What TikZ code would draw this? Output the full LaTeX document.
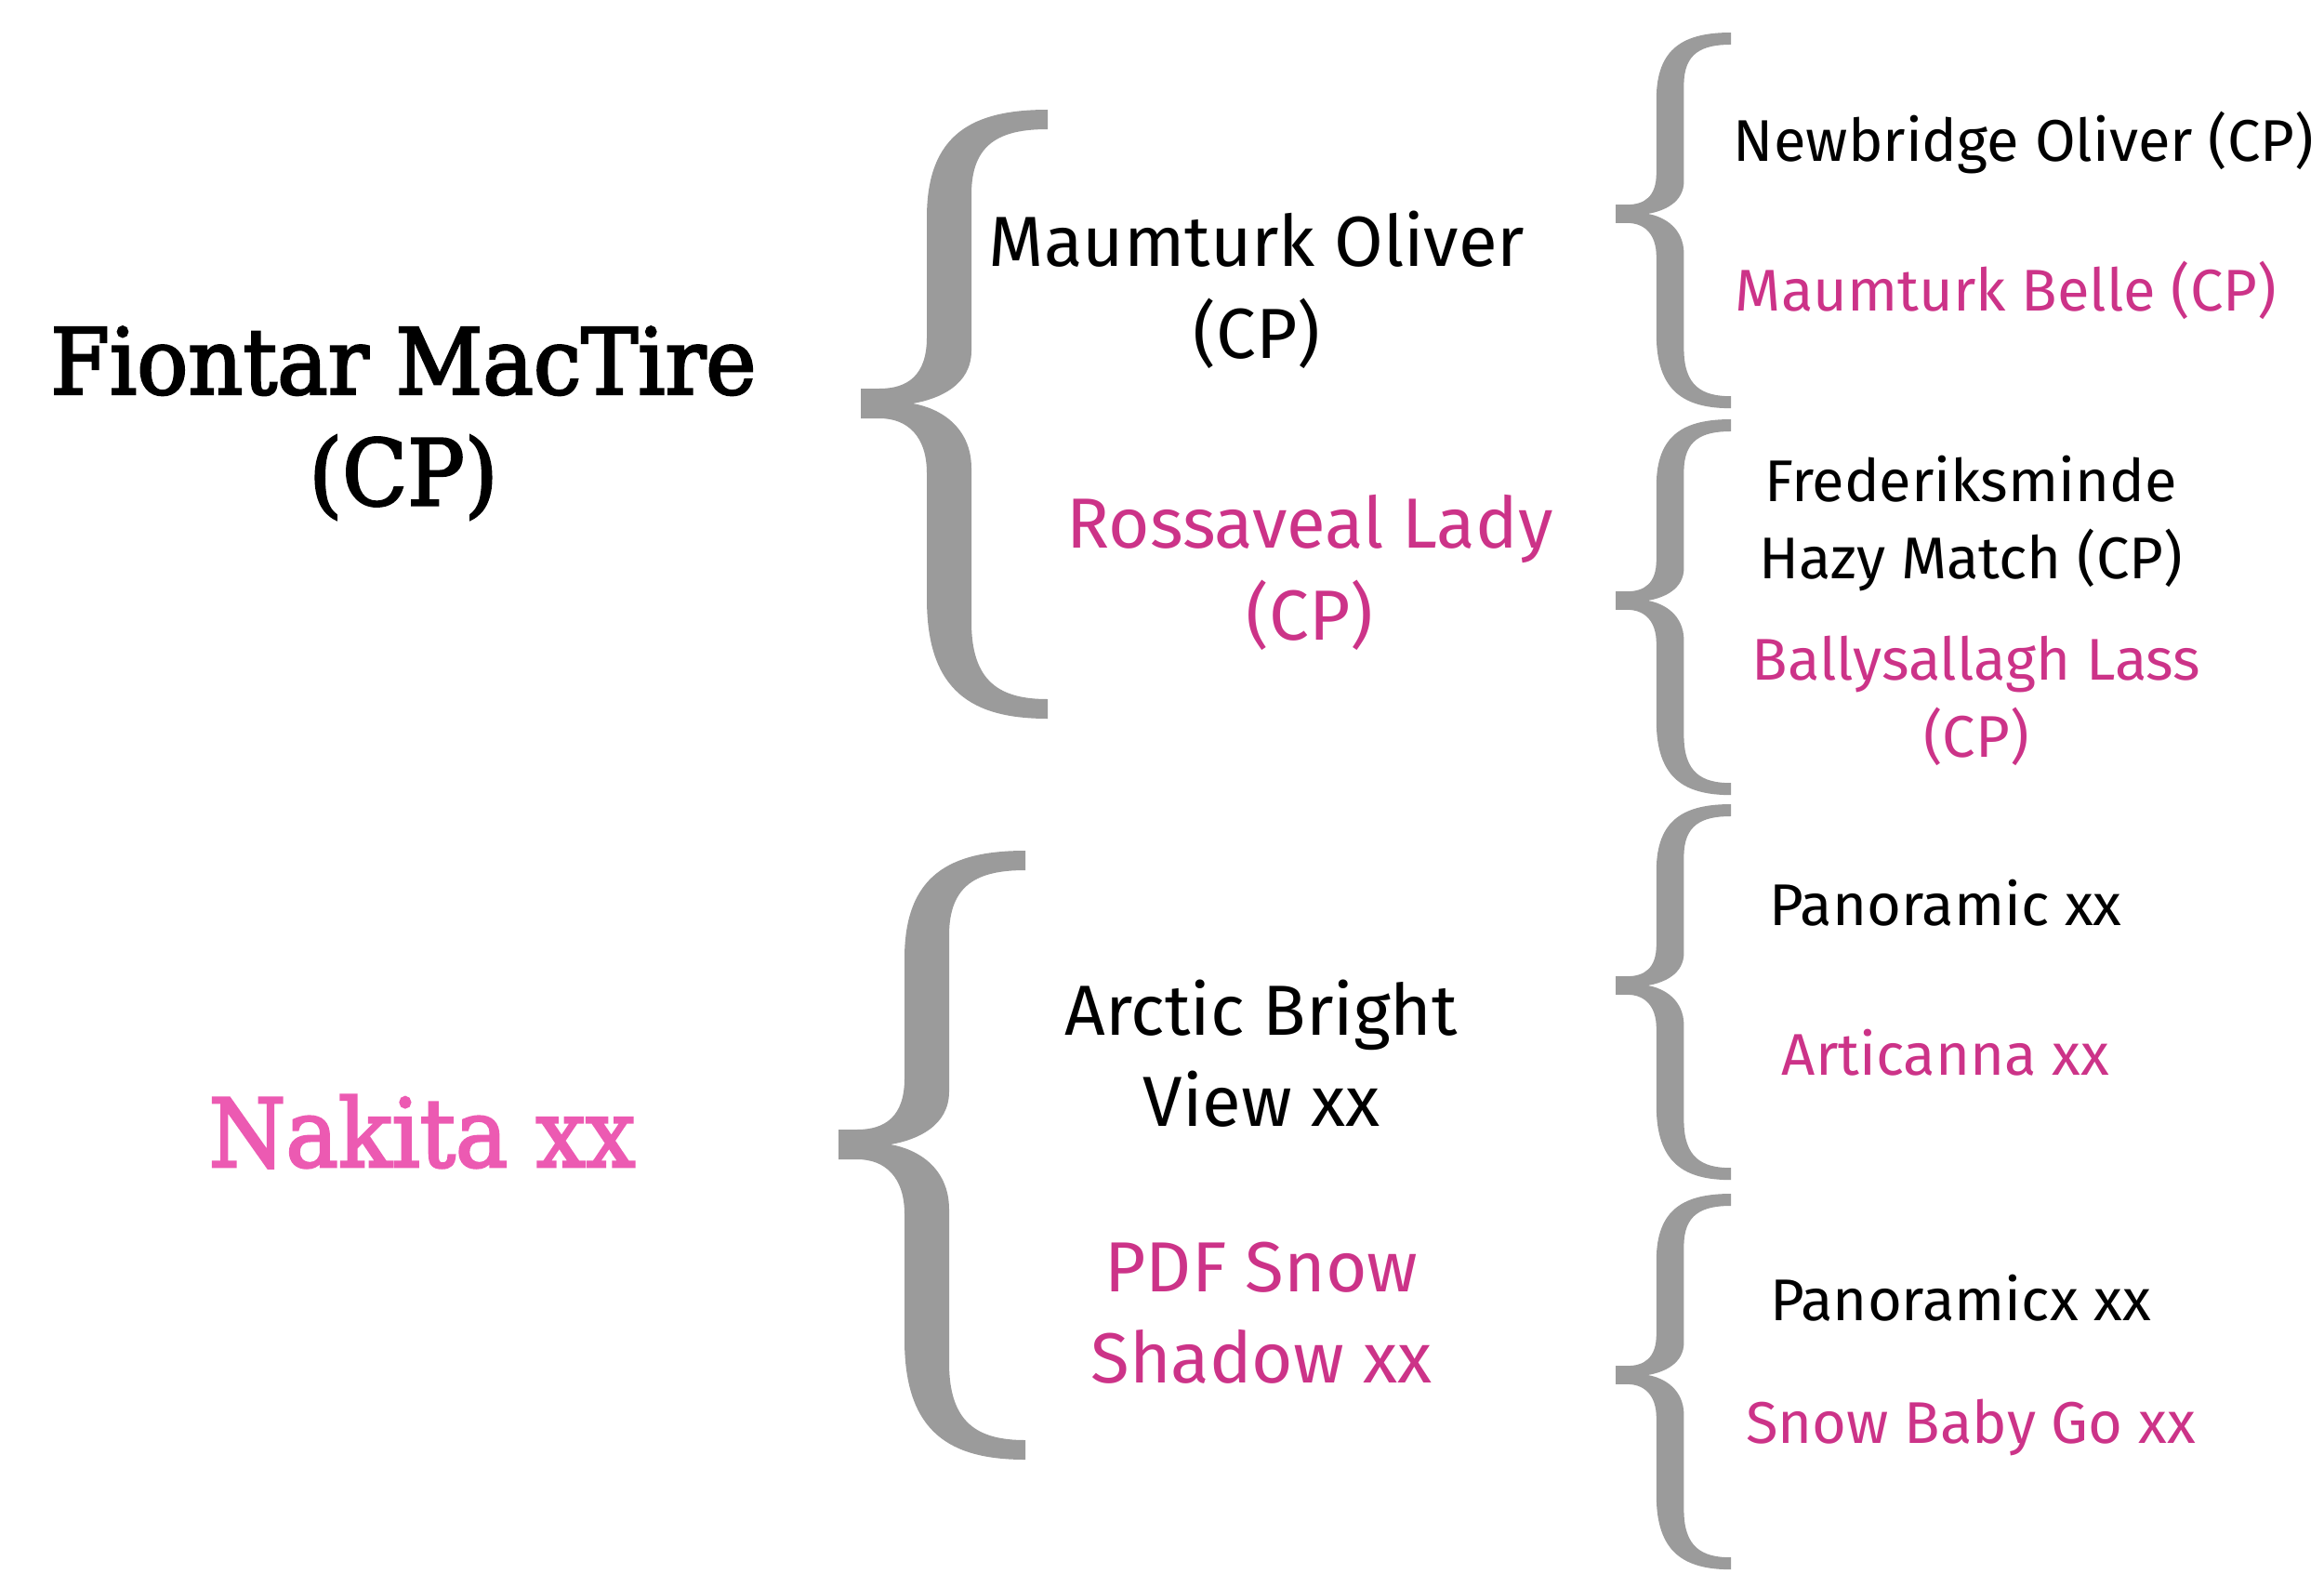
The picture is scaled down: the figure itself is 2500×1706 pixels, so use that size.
\documentclass[tikz,border=0pt]{standalone}
\usepackage{fontspec}
\usepackage{tikz}
\newfontfamily\titlefont[FakeStretch=0.93, FakeBold=2.5]{DejaVu Serif}
\newfontfamily\namefont{Fira Sans}
\definecolor{bracegray}{HTML}{9B9B9B}
\definecolor{mareink}{HTML}{CC3388}
\definecolor{nakitapink}{HTML}{EC5AB2}
\tikzset{
  bracefill/.style={fill=bracegray},
  horse/.style={align=center, inner sep=0pt},
  big/.style={horse, font=\titlefont\fontsize{28}{34}\selectfont},
  mid/.style={horse, font=\namefont\fontsize{21.7}{28}\selectfont},
  small/.style={horse, font=\namefont\fontsize{18}{23.5}\selectfont},
  mare/.style={text=mareink},
}
% filled curly brace, tip at #2, size #1
\newcommand{\curlybrace}[2][1]{%
  \fill[bracefill, shift={#2}, scale=#1]
    (201,-316) .. controls (120,-316) and (71,-290) .. (71,-200)
    -- (71,-71) .. controls (71,-30) and (50,-16) .. (20,-16)
    -- (0,-16) -- (0,16) -- (20,16)
    .. controls (50,16) and (71,35) .. (71,75)
    -- (71,210) .. controls (71,310) and (120,339) .. (201,339)
    -- (201,318) .. controls (150,318) and (119,300) .. (119,235)
    -- (119,70) .. controls (119,25) and (85,5) .. (56,0)
    .. controls (85,-5) and (119,-20) .. (119,-57)
    -- (119,-225) .. controls (119,-280) and (150,-295) .. (201,-295)
    -- cycle;}

\begin{document}
\begin{tikzpicture}[x=0.01cm, y=-0.01cm]
  \useasboundingbox (0,0) rectangle (2500,1706);

  % braces
  \curlybrace{(926,434)}
  \curlybrace{(902,1231)}
  \curlybrace[0.617]{(1738,230)}
  \curlybrace[0.617]{(1738,646)}
  \curlybrace[0.617]{(1738,1060)}
  \curlybrace[0.617]{(1738,1479)}

  % first generation
  \node[big] (sire) at (434,455) {Fiontar MacTire\\(CP)};
  \node[big, font=\titlefont\fontsize{29}{34}\selectfont, text=nakitapink] (dam) at (454,1217) {Nakita xx};

  % second generation
  \node[mid] (ss) at (1352,312) {Maumturk Oliver\\(CP)};
  \node[mid, mare] (sd) at (1409,616) {Rossaveal Lady\\(CP)};
  \node[mid] (ds) at (1357,1133) {Arctic Bright\\View xx};
  \node[mid, mare] (dd) at (1357,1412) {PDF Snow\\Shadow xx};

  % third generation
  \node[small] (sss) at (2177,153) {Newbridge Oliver (CP)};
  \node[small, mare] (ssd) at (2158,312) {Maumturk Belle (CP)};
  \node[small] (sds) at (2120,563) {Frederiksminde\\Hazy Match (CP)};
  \node[small, mare] (sdd) at (2126,754) {Ballysallagh Lass\\(CP)};
  \node[small] (dss) at (2093,971) {Panoramic xx};
  \node[small, mare] (dsd) at (2093,1132) {Articanna xx};
  \node[small] (dds) at (2109,1396) {Panoramicx xx};
  \node[small, mare] (ddd) at (2120,1535) {Snow Baby Go xx};
\end{tikzpicture}
\end{document}
